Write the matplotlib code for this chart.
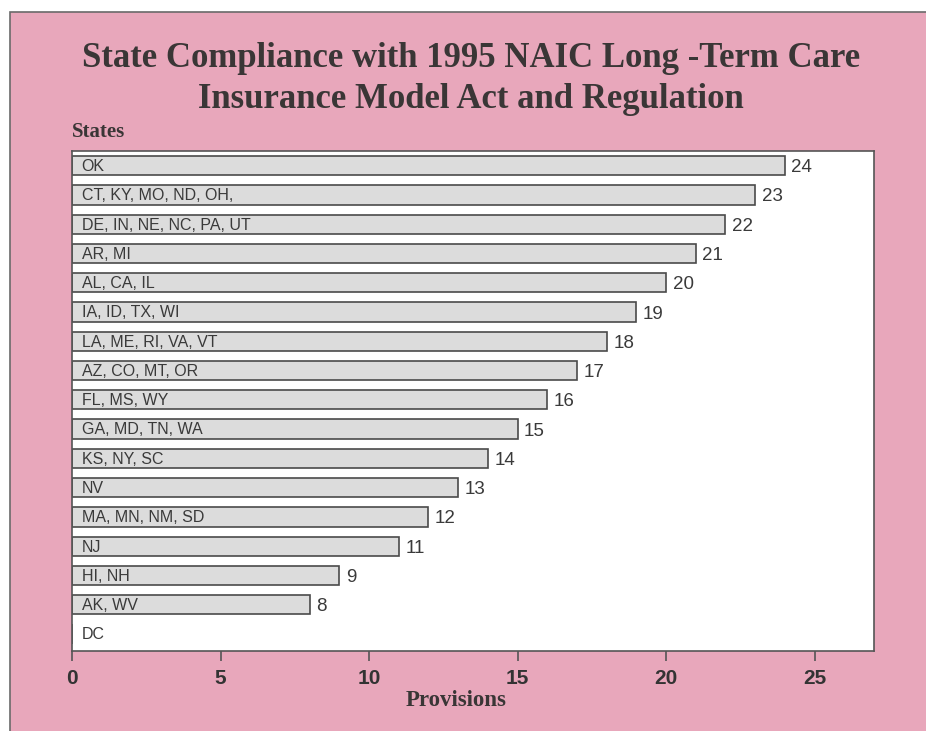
import matplotlib
matplotlib.use("Agg")
import matplotlib.pyplot as plt
from matplotlib.patches import Rectangle

# Provisions adopted, grouped by states sharing the same count
state_groups = [
    "OK",
    "CT, KY, MO, ND, OH,",
    "DE, IN, NE, NC, PA, UT",
    "AR, MI",
    "AL, CA, IL",
    "IA, ID, TX, WI",
    "LA, ME, RI, VA, VT",
    "AZ, CO, MT, OR",
    "FL, MS, WY",
    "GA, MD, TN, WA",
    "KS, NY, SC",
    "NV",
    "MA, MN, NM, SD",
    "NJ",
    "HI, NH",
    "AK, WV",
    "DC",
]
provisions = [24, 23, 22, 21, 20, 19, 18, 17, 16, 15, 14, 13, 12, 11, 9, 8, 0]
x_ticks = [0, 5, 10, 15, 20, 25]

title = "State Compliance with 1995 NAIC Long -Term Care\nInsurance Model Act and Regulation"

PINK = "#e8a7bb"
BAR_FILL = "#dcdcdc"
EDGE = "#4a4a4a"
TEXT = "#333333"

fig = plt.figure(figsize=(9.26, 7.31), dpi=100)
fig.patch.set_facecolor("white")

# pink backing panel with a thin dark border along the top and left
panel = Rectangle((10 / 926, -0.05), 1.2, 1 - 12 / 731 + 0.05,
                  transform=fig.transFigure, facecolor=PINK,
                  edgecolor="#6a6a6a", linewidth=1.2, zorder=-10)
fig.patches.append(panel)

ax = fig.add_axes([72 / 926, 1 - 651 / 731, (874 - 72) / 926, 500 / 731])
ax.set_facecolor("white")

y = list(range(len(state_groups)))
ax.barh(y, provisions, height=0.66, color=BAR_FILL, edgecolor=EDGE,
        linewidth=1.2, zorder=2)

for yi, name, val in zip(y, state_groups, provisions):
    ax.text(0.32, yi + 0.03, name, va="center", ha="left",
            fontsize=11.5, family="Liberation Sans", color="#3a3a3a", zorder=3)
    if val > 0:
        ax.text(val + 0.22, yi + 0.07, str(val), va="center", ha="left",
                fontsize=13.5, family="Liberation Sans", color="#3a3a3a", zorder=3)

ax.set_xlim(0, 27)
ax.set_ylim(len(state_groups) - 0.42, -0.5)
ax.set_yticks([])
ax.set_xticks(x_ticks)
ax.set_xticklabels([str(t) for t in x_ticks], fontsize=15, fontweight="bold",
                   family="Liberation Sans", color=TEXT)
ax.tick_params(axis="x", direction="out", length=7, width=1.2, color="#555555", pad=6)
for s in ax.spines.values():
    s.set_color("#555555")
    s.set_linewidth(1.2)

fig.text(471 / 926, 1 - 79 / 731, title, ha="center", va="center",
         fontsize=25, fontweight="bold", family="Liberation Serif",
         color="#3a3636", linespacing=1.3)
fig.text(72 / 926, 1 - 132 / 731, "States", ha="left", va="center",
         fontsize=15, fontweight="bold", family="Liberation Serif", color="#3a3636")
fig.text(456 / 926, 1 - 700 / 731, "Provisions", ha="center", va="center",
         fontsize=16.5, fontweight="bold", family="Liberation Serif", color="#3a3636")

fig.savefig("out.png", dpi=100, facecolor=fig.get_facecolor())
